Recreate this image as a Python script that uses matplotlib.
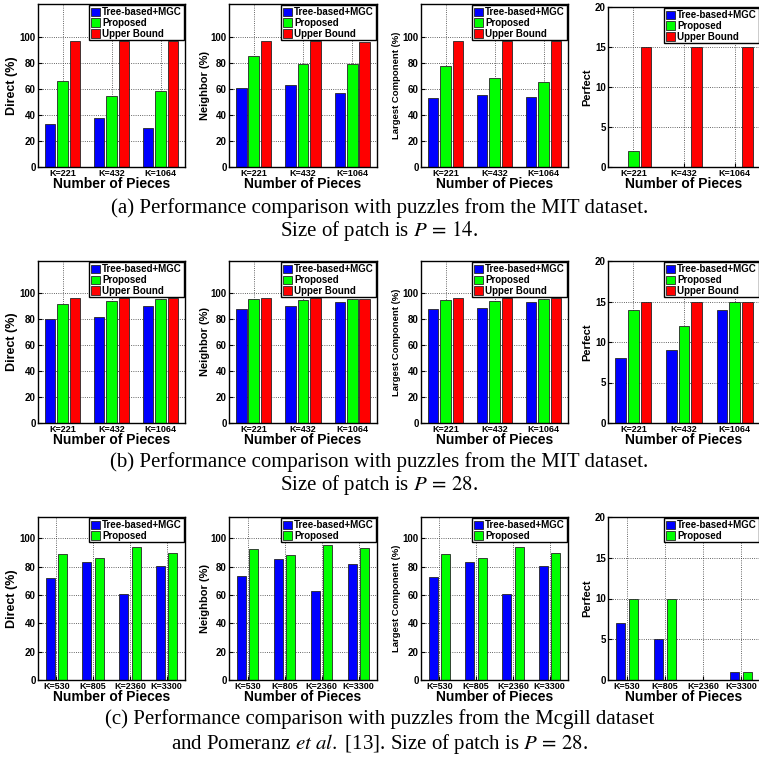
import numpy as np
import matplotlib
matplotlib.use("Agg")
import matplotlib.pyplot as plt

plt.rcParams['font.family'] = ['Liberation Sans', 'DejaVu Sans']
plt.rcParams['mathtext.fontset'] = 'stix'

# ---- data ----
methods3 = ['Tree-based+MGC', 'Proposed', 'Upper Bound']
methods2 = ['Tree-based+MGC', 'Proposed']
pieces_mit = ['K=221', 'K=432', 'K=1064']
pieces_mcgill = ['K=530', 'K=805', 'K=2360', 'K=3300']
metrics = ['Direct (%)', 'Neighbor (%)', 'Largest Component (%)', 'Perfect']

# (a) MIT, P=14  -> [tree, proposed, upper] per metric
a_direct = [[33.3, 37.9, 29.7], [65.9, 54.1, 57.9], [96.9, 96.7, 96.4]]
a_neighbor = [[60.3, 62.8, 56.7], [84.9, 79.2, 79.0], [96.4, 96.4, 96.2]]
a_largest = [[52.7, 55.0, 53.5], [77.4, 67.9, 65.0], [97.0, 96.7, 96.6]]
a_perfect = [[0, 0, 0], [2, 0, 0], [15, 15, 15]]

# (b) MIT, P=28
b_direct = [[80.0, 81.8, 90.5], [91.8, 94.4, 95.6], [96.7, 96.4, 96.2]]
b_neighbor = [[88.2, 90.3, 93.6], [95.4, 94.6, 95.4], [96.2, 96.2, 95.9]]
b_largest = [[87.9, 88.7, 93.3], [94.6, 94.4, 95.6], [96.4, 96.2, 96.2]]
b_perfect = [[8, 9, 14], [14, 12, 15], [15, 15, 15]]

# (c) Mcgill + Pomeranz, P=28
c_direct = [[72.1, 83.4, 60.4, 80.3], [89.0, 86.2, 93.9, 89.7]]
c_neighbor = [[73.3, 85.5, 62.5, 81.7], [92.5, 88.5, 95.1, 93.2]]
c_largest = [[72.8, 83.6, 60.9, 80.1], [88.8, 86.2, 93.9, 89.9]]
c_perfect = [[7, 5, 0, 1], [10, 10, 0, 1]]

captions = [
    ("(a) Performance comparison with puzzles from the MIT dataset.",
     r"Size of patch is $P\, =\, 14$."),
    ("(b) Performance comparison with puzzles from the MIT dataset.",
     r"Size of patch is $P\, =\, 28$."),
    ("(c) Performance comparison with puzzles from the Mcgill dataset",
     r"and Pomeranz $\mathit{et\ al.}$ [13]. Size of patch is $P\, =\, 28$."),
]

colors = ['#0000ff', '#00ff00', '#ff0000']

W, H = 759, 768
fig = plt.figure(figsize=(W / 100, H / 100), dpi=100)

# panel extents in pixels
cols = [(38, 185), (229, 377), (421, 568), (608, 760)]
rows = [(4, 167), (261, 423), (517, 680)]
ylabel_sizes = [9, 8, 6.8, 8]
ylabel_x = [-0.175, -0.16, -0.17, -0.135]


def draw_panel(ax, series, names, xlabels, ylim, yticks, ylabel, lsize, lx):
    n = len(series)
    x = np.arange(1, len(xlabels) + 1)
    if n == 3:
        offs, width = [-0.25, 0, 0.25], 0.21
    else:
        offs, width = [-0.17, 0.17], 0.25
    for vals, off, col, name in zip(series, offs, colors, names):
        ax.bar(x + off, vals, width, color=col, edgecolor='0.15',
               linewidth=0.6, label=name)
    ax.set_xlim(0.5, len(xlabels) + 0.5)
    ax.set_ylim(*ylim)
    ax.set_xticks(x)
    ax.set_xticklabels(xlabels, fontsize=6.5, fontweight='bold')
    ax.set_yticks(yticks)
    ax.set_yticklabels([str(t) for t in yticks], fontsize=7, fontweight='bold')
    ax.tick_params(direction='in', length=3, width=0.8, pad=1.5)
    ax.grid(True, linestyle=':', color='0.2', linewidth=0.6)
    ax.set_axisbelow(True)
    for s in ax.spines.values():
        s.set_linewidth(1.0)
    ax.set_xlabel('Number of Pieces', fontsize=10, fontweight='bold', labelpad=-1)
    ax.set_ylabel(ylabel, fontsize=lsize, fontweight='bold', va='center')
    ax.yaxis.set_label_coords(lx, 0.5)
    leg = ax.legend(loc='upper right', borderaxespad=0.15, fancybox=False,
                    framealpha=1, edgecolor='black',
                    prop={'weight': 'bold', 'size': 7},
                    handlelength=1.0, handleheight=0.9, handletextpad=0.2,
                    borderpad=0.15, labelspacing=0.1)
    leg.get_frame().set_linewidth(1.0)


row_data = [
    ([a_direct, a_neighbor, a_largest, a_perfect], methods3, pieces_mit, 125),
    ([b_direct, b_neighbor, b_largest, b_perfect], methods3, pieces_mit, 125),
    ([c_direct, c_neighbor, c_largest, c_perfect], methods2, pieces_mcgill, 115),
]

for (top, bot), (datas, names, xl, ytop) in zip(rows, row_data):
    for j, ((l, r), d) in enumerate(zip(cols, datas)):
        t = top
        if j == 3 and top == 4:
            t = 7
        ax = fig.add_axes([l / W, 1 - bot / H, (r - l) / W, (bot - t) / H])
        if j == 3:
            draw_panel(ax, d, names, xl, (0, 20), [0, 5, 10, 15, 20],
                       metrics[j], ylabel_sizes[j], ylabel_x[j])
        else:
            draw_panel(ax, d, names, xl, (0, ytop), [0, 20, 40, 60, 80, 100],
                       metrics[j], ylabel_sizes[j], ylabel_x[j])

cap_y = [(208, 231), (462, 485), (719, 744)]
for (l1, l2), (y1, y2) in zip(captions, cap_y):
    fig.text(0.5, 1 - y1 / H, l1, ha='center', va='center',
             family='Liberation Serif', fontsize=15)
    fig.text(0.5, 1 - y2 / H, l2, ha='center', va='center',
             family='Liberation Serif', fontsize=15)

fig.savefig('out.png', dpi=100)
